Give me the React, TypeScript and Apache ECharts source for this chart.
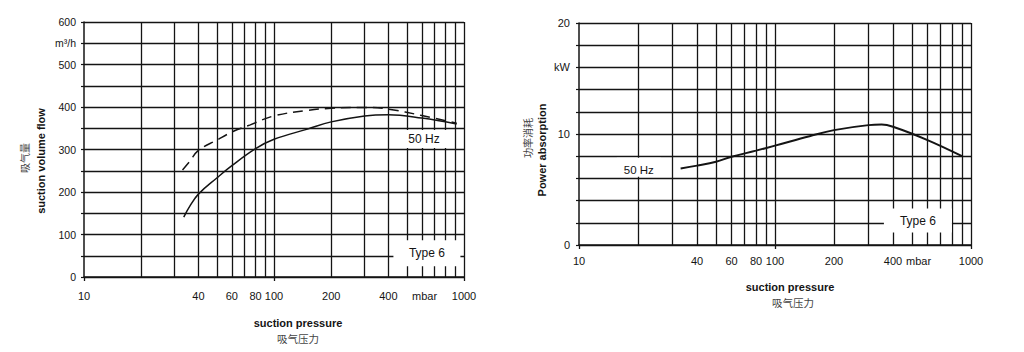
import React, { useEffect, useRef } from 'react';
import * as echarts from 'echarts';

// ---- data ----
const pressureGridLines = [20, 30, 40, 50, 60, 70, 80, 90, 100, 200, 300, 400, 500, 600, 700, 800, 900, 1000];
const pressureTickLabels = [10, 40, 60, 80, 100, 200, 400, 1000];
const pressureUnit = 'mbar';

const flowTickLabels = [0, 100, 200, 300, 400, 500, 600];
const flowUnit = 'm³/h';
const powerTickLabels = [0, 10, 20];
const powerUnit = 'kW';

// suction volume flow, 50 Hz (solid)  [mbar, m³/h]
const flowSolid: [number, number][] = [
  [33.5, 141], [36, 166], [40, 195], [50, 233], [60, 262], [80, 302], [100, 324],
  [150, 348], [200, 365], [300, 379], [400, 382], [600, 374], [915, 360],
];
// suction volume flow (dashed)  [mbar, m³/h]
const flowDashed: [number, number][] = [
  [33, 252], [36, 272], [40, 298], [50, 322], [60, 341], [75, 358], [100, 379],
  [150, 392], [200, 397], [300, 399], [400, 395], [600, 380], [915, 362],
];
// power absorption, 50 Hz  [mbar, kW]
const power50Hz: [number, number][] = [
  [33, 6.9], [40, 7.15], [50, 7.5], [60, 7.95], [80, 8.5], [100, 8.95], [150, 9.8],
  [200, 10.35], [300, 10.8], [350, 10.85], [400, 10.65], [600, 9.45], [900, 8.0],
];

const flowNotes = [
  { text: '50 Hz', at: [616, 325] },
  { text: 'Type 6', at: [638, 56] },
];
const powerNotes = [
  { text: '50 Hz', at: [20.2, 7.0] },
  { text: 'Type 6', at: [536, 2.2] },
];

const INK = '#141414';
const FONT = '"Liberation Sans", Arial, sans-serif';
const CJK = '"Noto Sans CJK SC", sans-serif';
const GRID_W = 1.3;

function xAxisFor(gridIndex: number, unitAt: number, margin: number) {
  return {
    gridIndex,
    type: 'log',
    logBase: 10,
    min: 10,
    max: 1000,
    axisLine: { show: true, lineStyle: { color: INK, width: 1.5 } },
    axisTick: { show: true, length: 4, lineStyle: { color: INK, width: 1.3 } },
    axisLabel: {
      show: true,
      customValues: [...pressureTickLabels, unitAt],
      formatter: (v: number) => (Math.abs(v - unitAt) < 1e-6 ? pressureUnit : String(Math.round(v))),
      margin,
      fontSize: 11,
      color: INK,
      fontFamily: FONT,
    },
    splitLine: { show: false },
    minorTick: { show: false },
    minorSplitLine: { show: false },
  };
}

function gridLineSeries(xAxisIndex: number, yAxisIndex: number) {
  return {
    type: 'line',
    xAxisIndex,
    yAxisIndex,
    data: [],
    silent: true,
    z: 1,
    markLine: {
      silent: true,
      z: 1,
      symbol: ['none', 'none'],
      label: { show: false },
      emphasis: { disabled: true },
      lineStyle: { type: 'solid', color: INK, width: GRID_W, opacity: 1 },
      data: pressureGridLines.map((p) => ({ xAxis: p })),
    },
  };
}

function titleGraphics() {
  return [
    {
      type: 'text', x: 41, y: 161, rotation: Math.PI / 2, z: 50,
      style: { text: 'suction volume flow', font: `bold 11px ${FONT}`, fill: INK, textAlign: 'center', textVerticalAlign: 'middle' },
    },
    {
      type: 'text', x: 24, y: 158, rotation: Math.PI / 2, z: 50,
      style: { text: '吸气量', font: `10px ${CJK}`, fill: '#444', textAlign: 'center', textVerticalAlign: 'middle' },
    },
    {
      type: 'text', x: 298, y: 323, z: 50,
      style: { text: 'suction pressure', font: `bold 11px ${FONT}`, fill: INK, textAlign: 'center', textVerticalAlign: 'middle' },
    },
    {
      type: 'text', x: 298, y: 338, z: 50,
      style: { text: '吸气压力', font: `10.5px ${CJK}`, fill: '#444', textAlign: 'center', textVerticalAlign: 'middle' },
    },
    {
      type: 'text', x: 542, y: 150, rotation: Math.PI / 2, z: 50,
      style: { text: 'Power absorption', font: `bold 11px ${FONT}`, fill: INK, textAlign: 'center', textVerticalAlign: 'middle' },
    },
    {
      type: 'text', x: 527, y: 138, rotation: Math.PI / 2, z: 50,
      style: { text: '功率消耗', font: `10px ${CJK}`, fill: '#444', textAlign: 'center', textVerticalAlign: 'middle' },
    },
    {
      type: 'text', x: 790, y: 287, z: 50,
      style: { text: 'suction pressure', font: `bold 11px ${FONT}`, fill: INK, textAlign: 'center', textVerticalAlign: 'middle' },
    },
    {
      type: 'text', x: 793, y: 302, z: 50,
      style: { text: '吸气压力', font: `10.5px ${CJK}`, fill: '#444', textAlign: 'center', textVerticalAlign: 'middle' },
    },
  ];
}

export default function App() {
  const ref = useRef<HTMLDivElement>(null);

  useEffect(() => {
    if (!ref.current) return;
    const chart = echarts.init(ref.current, undefined, { renderer: 'svg' });

    const option: any = {
      animation: false,
      backgroundColor: '#ffffff',
      textStyle: { fontFamily: FONT },
      grid: [
        { left: 84, top: 22, width: 380, height: 255, outerBoundsMode: 'none', containLabel: false },
        { left: 579, top: 23, width: 392, height: 222, outerBoundsMode: 'none', containLabel: false },
      ],
      xAxis: [xAxisFor(0, 620, 13), xAxisFor(1, 540, 10)],
      yAxis: [
        {
          gridIndex: 0,
          type: 'value',
          min: 0,
          max: 600,
          interval: 50,
          axisLine: { show: true, lineStyle: { color: INK, width: 1.5 } },
          axisTick: { show: true, length: 3, lineStyle: { color: INK, width: 1.2 } },
          axisLabel: {
            formatter: (v: number) => (flowTickLabels.includes(v) ? String(v) : v === 550 ? flowUnit : ''),
            margin: 8,
            fontSize: 10.5,
            color: INK,
            fontFamily: FONT,
          },
          splitLine: { show: true, lineStyle: { color: INK, width: GRID_W } },
        },
        {
          gridIndex: 1,
          type: 'value',
          min: 0,
          max: 20,
          interval: 2,
          axisLine: { show: true, lineStyle: { color: INK, width: 1.5 } },
          axisTick: { show: true, length: 3, lineStyle: { color: INK, width: 1.2 } },
          axisLabel: {
            formatter: (v: number) => (powerTickLabels.includes(v) ? String(v) : v === 16 ? powerUnit : ''),
            margin: 9,
            fontSize: 11,
            color: INK,
            fontFamily: FONT,
          },
          splitLine: { show: true, lineStyle: { color: INK, width: GRID_W } },
        },
      ],
      series: [
        gridLineSeries(0, 0),
        gridLineSeries(1, 1),
        {
          type: 'line',
          xAxisIndex: 0,
          yAxisIndex: 0,
          data: flowDashed,
          smooth: 0.4,
          showSymbol: false,
          z: 3,
          lineStyle: { color: INK, width: 1.5, type: [10, 6] },
        },
        {
          type: 'line',
          xAxisIndex: 0,
          yAxisIndex: 0,
          data: flowSolid,
          smooth: 0.4,
          showSymbol: false,
          z: 3,
          lineStyle: { color: INK, width: 1.5 },
        },
        {
          type: 'line',
          xAxisIndex: 1,
          yAxisIndex: 1,
          data: power50Hz,
          smooth: 0.4,
          showSymbol: false,
          z: 3,
          lineStyle: { color: INK, width: 2 },
        },
      ],
      graphic: titleGraphics(),
    };

    chart.setOption(option);

    // note boxes placed through the axes' own scales
    const noteBoxes = [
      { grid: 0, note: flowNotes[0], w: 52, h: 18, size: 12, dy: 0 },
      { grid: 0, note: flowNotes[1], w: 67, h: 26, size: 12, dy: 0 },
      { grid: 1, note: powerNotes[0], w: 44, h: 19, size: 11.5, dy: 3 },
      { grid: 1, note: powerNotes[1], w: 68, h: 24, size: 12, dy: 0 },
    ];
    const noteGraphics: any[] = [];
    noteBoxes.forEach((b) => {
      const p = chart.convertToPixel({ gridIndex: b.grid } as any, b.note.at) as number[];
      if (!p) return;
      noteGraphics.push({
        type: 'rect',
        z: 100,
        shape: { x: p[0] - b.w / 2, y: p[1] - b.h / 2, width: b.w, height: b.h },
        style: { fill: '#ffffff' },
        silent: true,
      });
      noteGraphics.push({
        type: 'text',
        z: 101,
        x: p[0],
        y: p[1] + b.dy,
        silent: true,
        style: {
          text: b.note.text,
          font: `${b.size}px ${FONT}`,
          fill: INK,
          textAlign: 'center',
          textVerticalAlign: 'middle',
        },
      });
    });
    chart.setOption({ graphic: [...titleGraphics(), ...noteGraphics] });

    return () => chart.dispose();
  }, []);

  return (
    <div
      ref={ref}
      style={{ position: 'absolute', left: 0, top: 0, width: 1024, height: 352, background: '#fff' }}
    />
  );
}
